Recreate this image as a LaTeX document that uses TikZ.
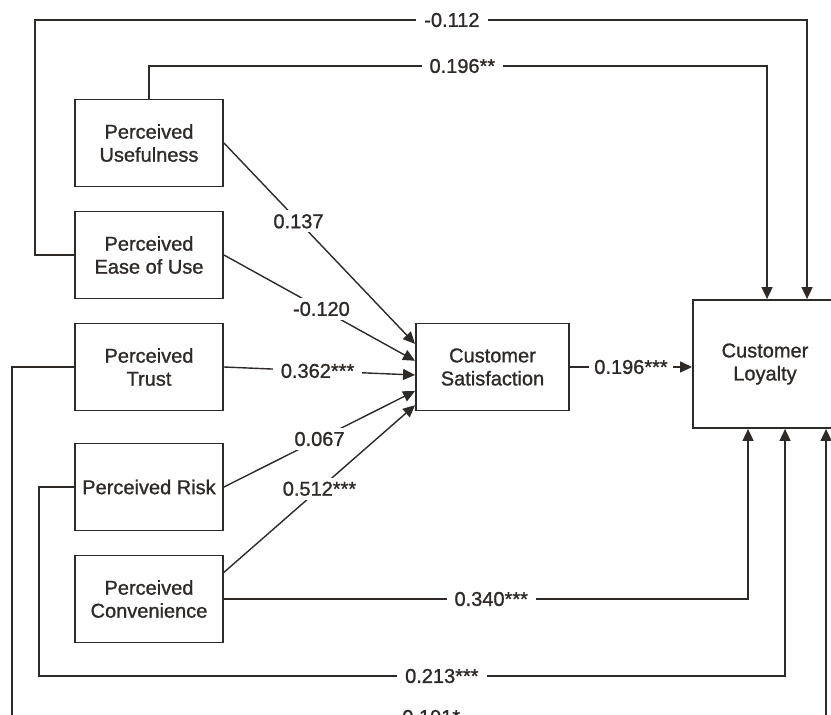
\documentclass[tikz,border=0pt]{standalone}
\usepackage{fontspec}
\setmainfont{Liberation Sans}[FakeBold=1.1]
\usetikzlibrary{arrows.meta,calc}
\definecolor{ink}{RGB}{46,42,40}
\tikzset{
	construct/.style={draw=ink,line width=1.9pt,minimum width=148pt,minimum height=87pt,align=center,text=ink,inner sep=2pt},
	link/.style={draw=ink,line width=1.4pt},
	arr/.style={link,-{Triangle[length=12pt,width=11pt]}},
	coef/.style={fill=white,text=ink,inner xsep=8pt,inner ysep=4pt}
}
\begin{document}
\begin{tikzpicture}[x=1pt,y=-1pt,font=\fontsize{20}{23}\selectfont]
		\useasboundingbox (0,0) rectangle (831,715);
		\clip (0,0) rectangle (831,715);
		% constructs
		\node[construct] (pu) at (149,143) {Perceived\\Usefulness};
		\node[construct] (peou) at (149,255) {Perceived\\Ease of Use};
		\node[construct] (pt) at (149,367) {Perceived\\Trust};
		\node[construct] (pr) at (149,487) {Perceived Risk};
		\node[construct] (pc) at (149,599) {Perceived\\Convenience};
		\node[construct,minimum width=153pt] (cs) at (492.5,367) {Customer\\Satisfaction};
		\node[construct,minimum width=144pt,minimum height=128pt] (cl) at (765,364) {Customer\\Loyalty};
		\coordinate (clin1) at ($(cl.north west)+(75,0)$);
		\coordinate (clin2) at ($(cl.north west)+(115,0)$);
		\coordinate (clout1) at ($(cl.south west)+(56,0)$);
		\coordinate (clout2) at ($(cl.south west)+(93,0)$);
		\coordinate (clout3) at ($(cl.south west)+(134,0)$);
		% paths into satisfaction
		\draw[arr] (pu.east) -- node[coef,pos=0.39] {0.137} ($(cs.north west)!0.24!(cs.south west)$);
		\draw[arr] (peou.east) -- node[coef,pos=0.51] {-0.120} ($(cs.north west)!0.43!(cs.south west)$);
		\draw[arr] (pt.east) -- node[coef,pos=0.49] {0.362***} ($(cs.north west)!0.59!(cs.south west)$);
		\draw[arr] (pr.east) -- node[coef,pos=0.5] {0.067} ($(cs.north west)!0.77!(cs.south west)$);
		\draw[arr] ($(pc.north east)!0.2!(pc.south east)$) -- node[coef,pos=0.5] {0.512***} ($(cs.north west)!0.93!(cs.south west)$);
		\draw[arr] (cs.east) -- node[coef,inner xsep=5pt] {0.196***} (cs.east -| cl.west);
		% direct paths into loyalty
		\draw[arr] (peou.west) -- (35,255) -- (35,20) -- node[coef,pos=0.54] {-0.112} (clin2 |- 0,20) -- (clin2);
		\draw[arr] (pu.north) -- (149,66) -- node[coef,pos=0.507] {0.196**} (clin1 |- 0,66) -- (clin1);
		\draw[arr] (pc.east) -- node[coef,pos=0.51] {0.340***} (clout1 |- pc.east) -- (clout1);
		\draw[arr] (pr.west) -- (39,487) -- (39,676) -- node[coef,pos=0.54] {0.213***} (clout2 |- 0,676) -- (clout2);
		\draw[arr] (pt.west) -- (12,367) -- (12,717) -- node[coef,pos=0.515] {0.191*} (clout3 |- 0,717) -- (clout3);
\end{tikzpicture}
\end{document}
